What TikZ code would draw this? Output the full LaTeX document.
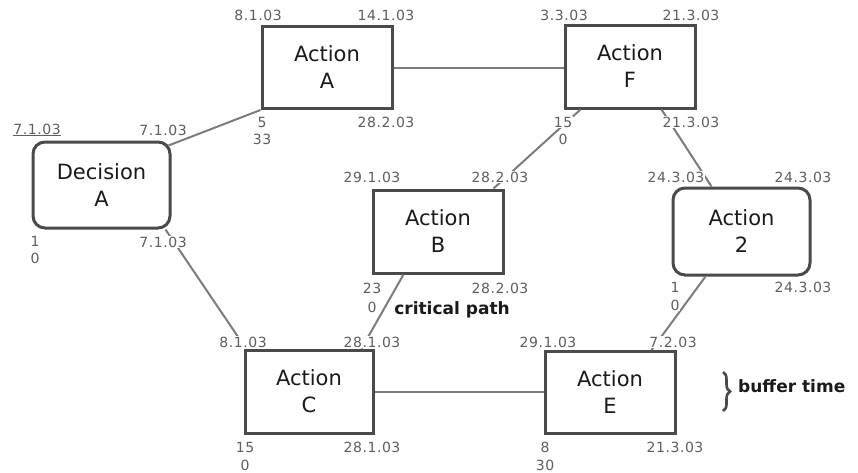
\documentclass[tikz,border=0pt]{standalone}
\usepackage{fontspec}
\setmainfont{DejaVu Sans}
\newfontfamily\labfont[LetterSpace=4]{DejaVu Sans}
\usetikzlibrary{calc,decorations.pathreplacing}
\definecolor{boxc}{HTML}{4A4A4A}
\definecolor{linec}{HTML}{7C7C7C}
\definecolor{labc}{HTML}{5E5E5E}
\definecolor{txt}{HTML}{1A1A1A}
\tikzset{
 box/.style={draw=boxc, line width=3pt, minimum width=130pt, minimum height=82pt, align=center,
   font=\fontsize{21}{27}\selectfont, text=txt, inner sep=0pt},
 rbox/.style={box, rounded corners=12pt},
 lab/.style={font=\labfont\fontsize{14}{15}\selectfont, text=labc, fill=white, inner sep=1pt},
 conn/.style={draw=linec, line width=2pt},
 note/.style={font=\bfseries\fontsize{17}{20}\selectfont, text=txt, inner sep=0pt},
}
\begin{document}
\begin{tikzpicture}[x=1pt,y=-1pt]
\useasboundingbox[fill=white] (0,0) rectangle (858,472);
% boxes
\node[rbox, minimum width=137pt, minimum height=86pt] (DA) at (101.5,185) {Decision\\A};
\node[box] (AA) at (327,67.5) {Action\\A};
\node[box, minimum height=83pt] (AF) at (630,66.5) {Action\\F};
\node[box, minimum height=83pt] (AB) at (438,231.5) {Action\\B};
\node[rbox, minimum width=137pt, minimum height=87pt] (A2) at (741.5,231.5) {Action\\2};
\node[box, minimum width=128pt, minimum height=83pt] (AC) at (309,391.5) {Action\\C};
\node[box] (AE) at (610,392.5) {Action\\E};
% connectors
\draw[conn] ($(DA.north east)+(-3,5)$) -- (AA.south west);
\draw[conn] (AA.east) -- (AA.east -| AF.west);
\draw[conn] ($(AF.south west)+(17,0)$) -- ($(AB.north east)+(-11,0)$);
\draw[conn] ($(AF.south east)+(-35,0)$) -- ($(A2.north west)+(40,0)$);
\draw[conn] ($(A2.south west)+(34,0)$) -- ($(AE.north east)+(-25,0)$);
\draw[conn] ($(DA.south east)+(-6,0)$) -- ($(AC.north west)+(-3,-8)$);
\draw[conn] ($(AB.south west)+(32,0)$) -- ($(AC.north east)+(-13,0)$);
\draw[conn] (AC.east) -- (AC.east -| AE.west);
% labels Decision A
\node[lab] (d1) at (37,130) {\underline{7.1.03}};
\node[lab] (d2) at (163,130) {7.1.03};
\node[lab] (d3) at (35,241) {1};
\node[lab] (d4) at (35,258) {0};
\node[lab] (d5) at (163,242) {7.1.03};
% Action A
\node[lab] (a1) at (258,15) {8.1.03};
\node[lab] (a2) at (386,15) {14.1.03};
\node[lab] (a3) at (262,122) {5};
\node[lab] (a4) at (262,139) {33};
\node[lab] (a5) at (386,122) {28.2.03};
% Action F
\node[lab] (f1) at (564,15) {3.3.03};
\node[lab] (f2) at (691,15) {21.3.03};
\node[lab] (f3) at (563,122) {15};
\node[lab] (f4) at (563,139) {0};
\node[lab] (f5) at (691,122) {21.3.03};
% Action B
\node[lab] (b1) at (372,177) {29.1.03};
\node[lab] (b2) at (500,177) {28.2.03};
\node[lab] (b3) at (372,288) {23};
\node[lab] (b4) at (372,307) {0};
\node[lab] (b5) at (500,288) {28.2.03};
% Action 2
\node[lab] (t1) at (676,177) {24.3.03};
\node[lab] (t2) at (803,177) {24.3.03};
\node[lab] (t3) at (675,287) {1};
\node[lab] (t4) at (675,305) {0};
\node[lab] (t5) at (803,287) {24.3.03};
% Action C
\node[lab] (c1) at (243,342) {8.1.03};
\node[lab] (c2) at (372,342) {28.1.03};
\node[lab] (c3) at (245,447) {15};
\node[lab] (c4) at (245,465) {0};
\node[lab] (c5) at (372,447) {28.1.03};
% Action E
\node[lab] (e1) at (548,342) {29.1.03};
\node[lab] (e2) at (673,342) {7.2.03};
\node[lab] (e3) at (545,447) {8};
\node[lab] (e4) at (545,465) {30};
\node[lab] (e5) at (675,447) {21.3.03};
% notes
\node[note] (cp) at (452,310) {critical path};
\coordinate (br1) at (723,372);
\coordinate (br2) at (723,411);
\draw[decorate, decoration={brace, amplitude=7pt}, line width=2.6pt, draw=boxc] (br1) -- (br2);
\node[note, anchor=west] (bt) at (738,386) {buffer time};
\end{tikzpicture}
\end{document}
